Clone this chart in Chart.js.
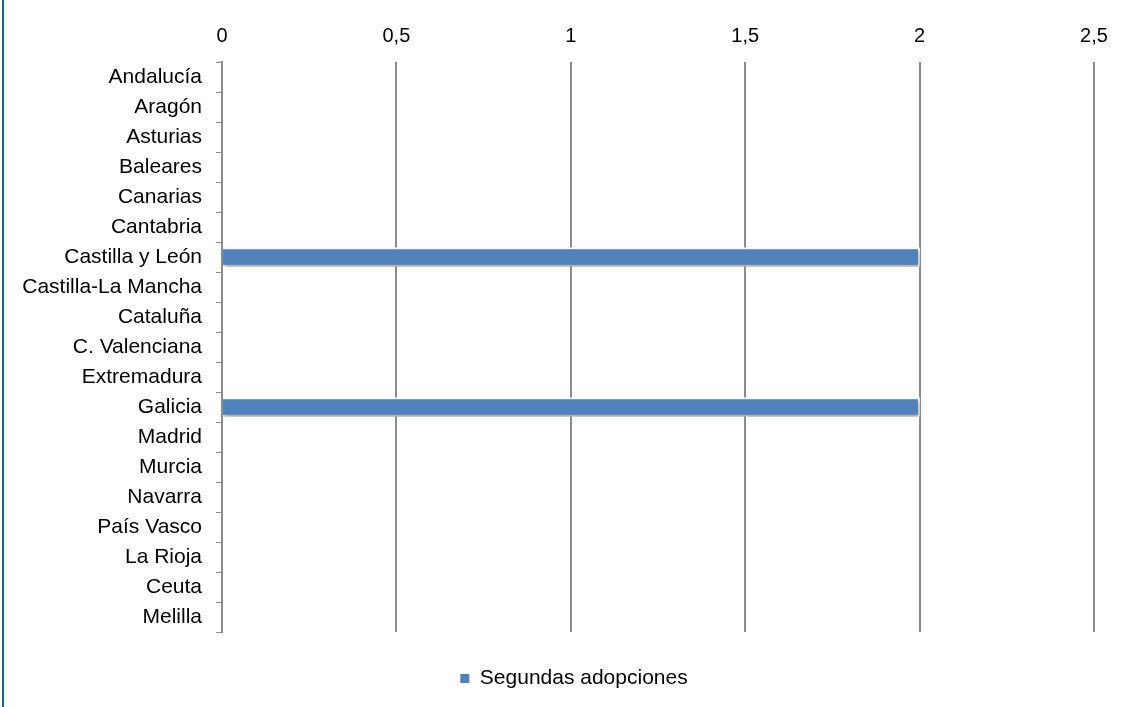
<!DOCTYPE html>
<html>
<head>
<meta charset="utf-8">
<script src="https://cdn.jsdelivr.net/npm/chart.js@4.4.1/dist/chart.umd.min.js"></script>
<style>
  html, body { margin: 0; padding: 0; background: #fff; }
  #wrap { position: relative; width: 1125px; height: 707px; }
  #edge { position: absolute; left: 2px; top: 0; width: 2px; height: 707px; background: #1565a8; }
</style>
</head>
<body>
<div id="wrap">
  <canvas id="adopcionesChart" width="1125" height="707"></canvas>
  <div id="edge"></div>
</div>
<script>
// Data
const comunidades = ['Andalucía', 'Aragón', 'Asturias', 'Baleares', 'Canarias', 'Cantabria',
    'Castilla y León', 'Castilla-La Mancha', 'Cataluña', 'C. Valenciana', 'Extremadura',
    'Galicia', 'Madrid', 'Murcia', 'Navarra', 'País Vasco', 'La Rioja', 'Ceuta', 'Melilla'];
const segundasAdopciones = [0, 0, 0, 0, 0, 0, 2, 0, 0, 0, 0, 2, 0, 0, 0, 0, 0, 0, 0];
const ejeMin = 0;
const ejeMax = 2.5;
const ejePaso = 0.5;

const fuente = "'Liberation Sans', Arial, sans-serif";
const gris = '#8c8c8c';
const azul = '#4f81bd';

// soft drop shadow under the bars
const sombraBarras = {
    id: 'sombraBarras',
    beforeDatasetsDraw(chart) {
        const ctx = chart.ctx;
        ctx.save();
        ctx.shadowColor = 'rgba(0,0,0,0.35)';
        ctx.shadowBlur = 4;
        ctx.shadowOffsetX = 1;
        ctx.shadowOffsetY = 3;
    },
    afterDatasetsDraw(chart) {
        chart.ctx.restore();
    }
};

// legend in the original sits a bit right of the canvas centre
const moverLeyenda = {
    id: 'moverLeyenda',
    afterLayout(chart) {
        chart.legend.left += 27;
        chart.legend.right += 27;
    }
};

const config = {
    type: 'bar',
    data: {
        labels: comunidades,
        datasets: [{
            label: 'Segundas adopciones',
            data: segundasAdopciones,
            // zero bars stay invisible so they don't smudge the axis
            backgroundColor: ctx => (ctx.raw ? azul : 'rgba(0,0,0,0)'),
            borderColor: '#ffffff',
            borderWidth: ctx => (ctx.raw ? 2 : 0),
            barThickness: 19
        }]
    },
    options: {
        indexAxis: 'y',
        responsive: false,
        animation: false,
        events: [],
        layout: { padding: { left: 0, right: 31, top: 0, bottom: 8 } },
        scales: {
            x: {
                position: 'top',
                min: ejeMin,
                max: ejeMax,
                ticks: {
                    stepSize: ejePaso,
                    color: '#000',
                    font: { family: fuente, size: 20 },
                    padding: 14,
                    callback: v => String(v).replace('.', ',')
                },
                grid: { color: gris, lineWidth: 2, drawTicks: false },
                border: { display: false },
                afterFit: s => { s.height = 62; }
            },
            y: {
                offset: true,
                ticks: {
                    color: '#000',
                    font: { family: fuente, size: 21 },
                    padding: 14,
                    autoSkip: false
                },
                grid: { offset: true, drawOnChartArea: false, tickLength: 6, color: gris, lineWidth: 1 },
                border: { display: true, color: gris, width: 2 },
                afterFit: s => { s.width = 222; }
            }
        },
        plugins: {
            legend: {
                position: 'bottom',
                labels: {
                    boxWidth: 9,
                    boxHeight: 9,
                    color: '#000',
                    font: { family: fuente, size: 21 },
                    padding: 36,
                    generateLabels: chart => Chart.defaults.plugins.legend.labels.generateLabels(chart)
                        .map(l => Object.assign(l, { fillStyle: azul, strokeStyle: azul, lineWidth: 0 }))
                }
            },
            tooltip: { enabled: false }
        }
    },
    plugins: [sombraBarras, moverLeyenda]
};

window.onload = function() {
    const ctx = document.getElementById('adopcionesChart').getContext('2d');
    new Chart(ctx, config);
};
</script>
</body>
</html>
